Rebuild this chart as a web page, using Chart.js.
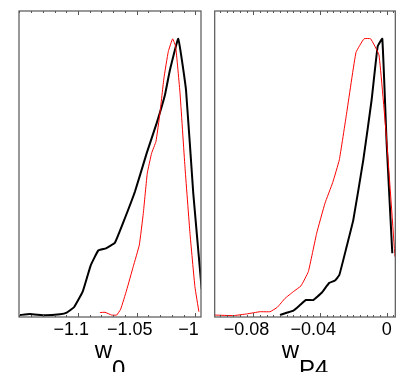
<!DOCTYPE html>
<html>
<head>
<meta charset="utf-8">
<script src="https://cdn.jsdelivr.net/npm/chart.js@4.4.0/dist/chart.umd.min.js"></script>
<style>
    html, body { margin: 0; padding: 0; background: #fff; }
    .panel { position: absolute; top: 0; height: 372px; }
    #w0-panel { left: 0; width: 230px; }
    #wp4-panel { left: 190px; width: 219px; }
</style>
</head>
<body>
<div class="panel" id="w0-panel"><canvas id="w0"></canvas></div>
<div class="panel" id="wp4-panel"><canvas id="wp4"></canvas></div>
<script>
// left panel: w0 (black = thick line, red = thin line)
const w0BlackX = [-1.1494, -1.141, -1.128, -1.1153, -1.1096, -1.1034, -1.096, -1.0892, -1.0827, -1.0761, -1.0685, -1.06, -1.0514, -1.0414, -1.0329, -1.0258, -1.0216, -1.0145, -1.0079, -1.0017, -0.9945];
const w0BlackY = [0.007, 0.011, 0.006, 0.01, 0.016, 0.035, 0.091, 0.185, 0.239, 0.247, 0.267, 0.355, 0.451, 0.589, 0.697, 0.799, 0.888, 1.0, 0.817, 0.445, 0.1];
const w0RedX = [-1.0813, -1.077, -1.0713, -1.067, -1.0636, -1.0585, -1.0529, -1.0477, -1.0443, -1.0409, -1.0372, -1.0335, -1.0301, -1.0267, -1.023, -1.0193, -1.0167, -1.013, -1.0088, -1.0045, -1.0003, -0.9969];
const w0RedY = [0.016, 0.017, 0.007, 0.007, 0.028, 0.097, 0.181, 0.259, 0.373, 0.517, 0.589, 0.631, 0.733, 0.859, 0.954, 1.0, 0.972, 0.805, 0.541, 0.301, 0.109, 0.019];
const w0Ticks = [-1.1, -1.05, -1];

// right panel: wP4
const wp4BlackX = [-0.064, -0.0596, -0.056, -0.052, -0.0484, -0.044, -0.039, -0.0344, -0.031, -0.0284, -0.024, -0.02, -0.014, -0.009, -0.0054, -0.0026, 0, 0.0034];
const wp4BlackY = [0.007, 0.016, 0.023, 0.043, 0.061, 0.061, 0.087, 0.123, 0.131, 0.151, 0.253, 0.349, 0.565, 0.781, 0.972, 1.0, 0.625, 0.229];
const wp4RedX = [-0.103, -0.092, -0.084, -0.076, -0.07, -0.0656, -0.061, -0.056, -0.0514, -0.047, -0.042, -0.037, -0.0324, -0.0284, -0.024, -0.0184, -0.0136, -0.0096, -0.0046, 0, 0.005];
const wp4RedY = [0.007, 0.005, 0.011, 0.019, 0.019, 0.035, 0.067, 0.091, 0.112, 0.163, 0.301, 0.409, 0.483, 0.565, 0.733, 0.951, 1.0, 1.0, 0.942, 0.637, 0.217];
const wp4Ticks = [-0.08, -0.04, 0];

const toPoints = (xs, ys) => xs.map((x, i) => ({ x: x, y: ys[i] }));

// frame + inward ticks on top and bottom + axis label with subscript
const framePlugin = {
    id: 'frame',
    afterDraw(chart, args, opts) {
        const { ctx, chartArea: { left, right, top, bottom } } = chart;
        const xs = chart.scales.x;
        ctx.save();
        ctx.strokeStyle = '#555';
        ctx.lineWidth = 1.2;
        ctx.strokeRect(left, top, right - left, bottom - top);

        ctx.lineWidth = 1;
        const nMinor = Math.round((xs.max - xs.min) / opts.minor) + 2;
        const start = Math.ceil(xs.min / opts.minor) * opts.minor;
        for (let i = 0; i < nMinor; i++) {
            const v = start + i * opts.minor;
            if (v > xs.max) break;
            const isMajor = opts.major.some(m => Math.abs(m - v) < opts.minor / 10);
            const len = isMajor ? 4 : 2;
            const px = Math.round(xs.getPixelForValue(v)) + 0.5;
            ctx.beginPath();
            ctx.moveTo(px, top);
            ctx.lineTo(px, top + len);
            ctx.moveTo(px, bottom);
            ctx.lineTo(px, bottom - len);
            ctx.stroke();
        }

        // axis title, e.g. w with subscript 0
        const cx = (left + right) / 2;
        ctx.fillStyle = '#000';
        ctx.textBaseline = 'alphabetic';
        ctx.font = '24px "Liberation Sans", Arial, sans-serif';
        const wW = ctx.measureText(opts.name).width;
        const sW = ctx.measureText(opts.sub).width;
        const x0 = cx - (wW + sW) / 2;
        ctx.textAlign = 'left';
        ctx.fillText(opts.name, x0, 358);
        ctx.fillText(opts.sub, x0 + wW, 377);
        ctx.restore();
    }
};

window.densityPanel = (id, blackPts, redPts, xmin, xmax, majorTicks, minorStep, pad, name, sub) => {
    const fmt = (v) => {
        let s = String(Math.abs(v));
        if (v < 0) return '\u2212' + s + '\u2007\u2009';
        return s;
    };

    var config = {
        type: 'line',
        data: {
            datasets: [{
                data: redPts,
                borderColor: '#ff0000',
                borderWidth: 1,
                pointRadius: 0,
                tension: 0.1
            }, {
                data: blackPts,
                borderColor: '#000000',
                borderWidth: 2,
                pointRadius: 0,
                tension: 0.1
            }]
        },
        options: {
            responsive: true,
            maintainAspectRatio: false,
            animation: { duration: 0 },
            layout: {
                padding: pad
            },
            plugins: {
                legend: { display: false },
                tooltip: { enabled: false },
                frame: { minor: minorStep, major: majorTicks, name: name, sub: sub }
            },
            scales: {
                x: {
                    type: 'linear',
                    min: xmin,
                    max: xmax,
                    grid: { display: false, drawTicks: false },
                    border: { display: false },
                    afterBuildTicks: (scale) => {
                        scale.ticks = majorTicks.map(v => ({ value: v }));
                    },
                    afterFit: (scale) => {
                        scale.height = 55;
                    },
                    ticks: {
                        color: '#000',
                        padding: 2,
                        maxRotation: 0,
                        autoSkip: false,
                        font: { family: '"Liberation Sans", Arial, sans-serif', size: 18 },
                        callback: (v) => fmt(v)
                    }
                },
                y: {
                    display: false,
                    min: 0,
                    max: 1.1
                }
            }
        },
        plugins: [framePlugin]
    };

    new Chart(document.getElementById(id), config);
};

densityPanel('w0', toPoints(w0BlackX, w0BlackY), toPoints(w0RedX, w0RedY),
    -1.1503, -0.9951, w0Ticks, 0.01, { left: 19, right: 29, top: 11, bottom: 0 }, 'w', '0');
densityPanel('wp4', toPoints(wp4BlackX, wp4BlackY), toPoints(wp4RedX, wp4RedY),
    -0.1032, 0.0052, wp4Ticks, 0.004, { left: 24.7, right: 13.7, top: 11, bottom: 0 }, 'w', 'P4');
</script>
</body>
</html>
